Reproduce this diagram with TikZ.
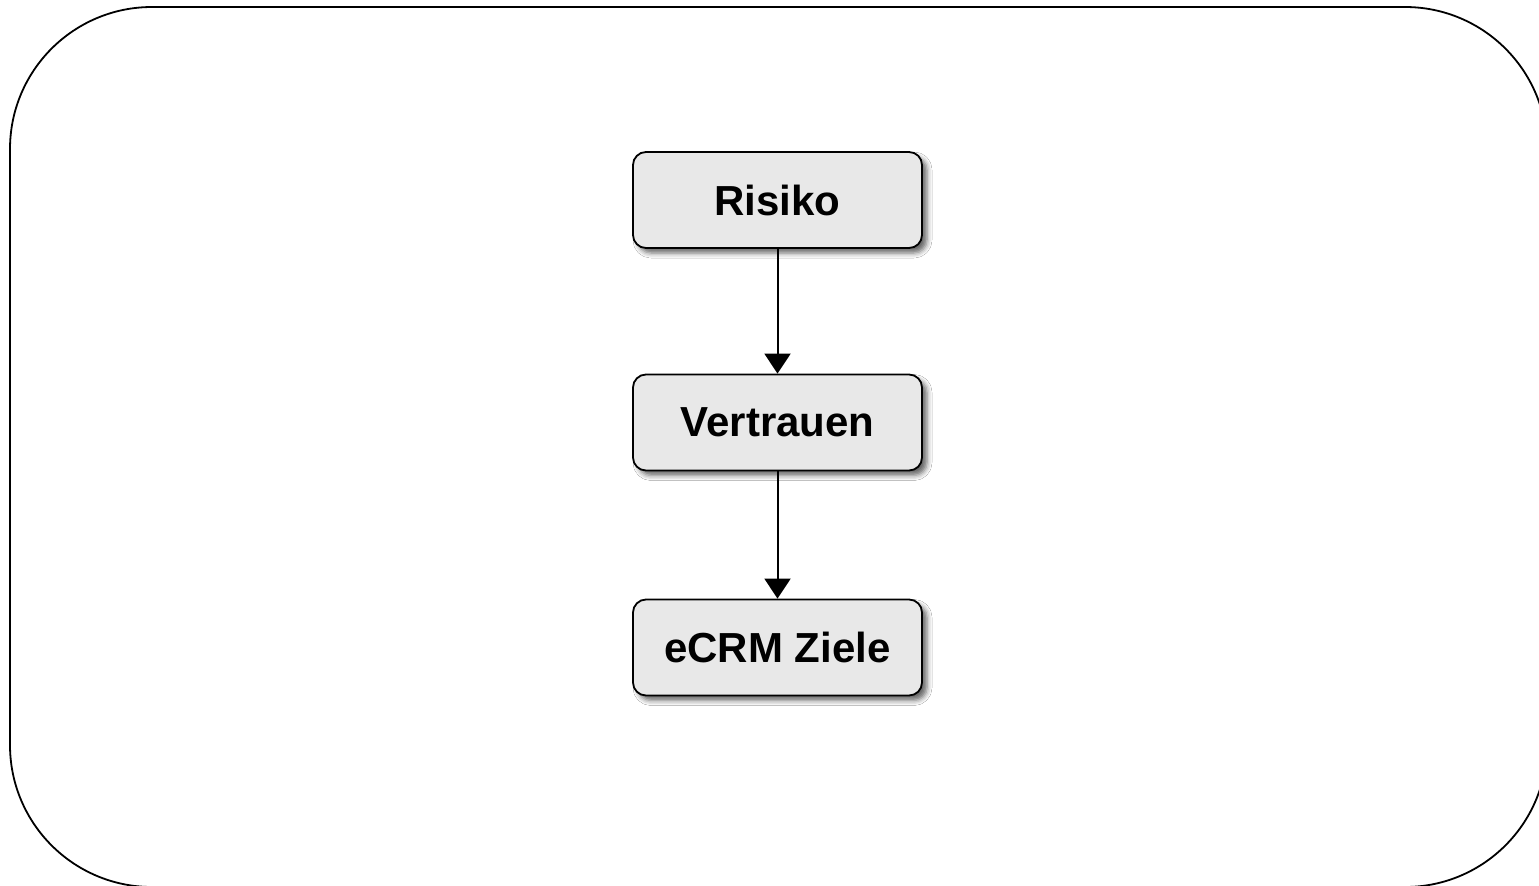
\documentclass[tikz,border=0pt]{standalone}
\usepackage{fontspec}
\setmainfont{Liberation Sans}
\usetikzlibrary{arrows.meta,shadows.blur}
\begin{document}
\begin{tikzpicture}[x=1bp,y=-1bp,
  stepbox/.style={draw=black, line width=1.8bp, fill=boxgray, rounded corners=13bp,
    minimum width=289bp, minimum height=96bp, inner sep=0pt,
    font=\fontsize{42bp}{48bp}\selectfont\bfseries,
    blur shadow={shadow xshift=5bp, shadow yshift=-5bp, shadow blur radius=5bp, shadow opacity=60}},
  flow/.style={line width=2bp, -{Triangle[length=20bp,width=26bp]}},
  frame/.style={draw=black, line width=1.8bp, rounded corners=142bp}]
\definecolor{boxgray}{HTML}{E8E8E8}
\useasboundingbox (0,0) rectangle (1539,885);
\clip (0,0) rectangle (1539,885);
\fill[white] (0,0) rectangle (1539,885);
\draw[frame] (10,7) rectangle (1547,887);
\node[stepbox] (risiko) at (777.5,200) {Risiko};
\node[stepbox] (vertrauen) at (777.5,422.5) {Vertrauen};
\node[stepbox] (ziele) at (777.5,647.5) {eCRM Ziele};
\draw[flow] (risiko) -- (vertrauen);
\draw[flow] (vertrauen) -- (ziele);
\end{tikzpicture}
\end{document}
